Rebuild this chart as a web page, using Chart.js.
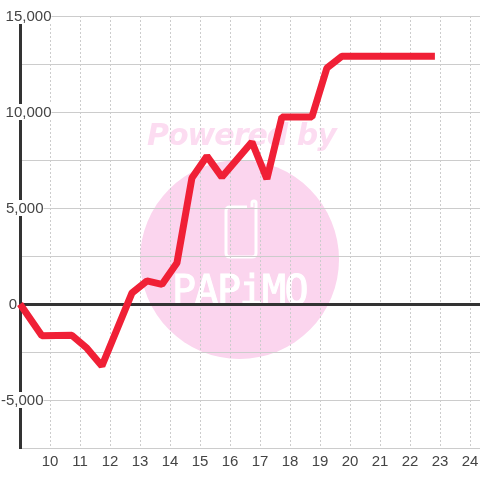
<!DOCTYPE html>
<html>
<head>
<meta charset="utf-8">
<style>
  html, body { margin: 0; padding: 0; background: #fff; }
  canvas { display: block; }
</style>
<script src="https://cdn.jsdelivr.net/npm/chart.js@4/dist/chart.umd.min.js"></script>
</head>
<body>
<canvas id="grafico" width="480" height="480"></canvas>
<script>
const horas = [9, 9.73, 10.73, 11.23, 11.73, 12.73, 13.23, 13.73, 14.23, 14.73, 15.23, 15.73, 16.73, 17.23, 17.73, 18.73, 19.23, 19.73, 22.83];
const valores = [0, -1650, -1630, -2300, -3230, 570, 1200, 1020, 2130, 6560, 7700, 6610, 8440, 6510, 9740, 9740, 12290, 12900, 12900];
const yTicks = [15000, 10000, 5000, 0, -5000];
const yTickLabels = ['15,000', '10,000', '5,000', '0', '-5,000'];
const yTickRight = [51.5, 51.5, 43.5, 17, 43.5];

const FONT = '15px "Liberation Sans"';
const TEXTO = '#444';

const marcaAgua = {
  id: 'marcaAgua',
  beforeDraw(chart) {
    const c = chart.ctx;
    c.save();
    c.fillStyle = '#fbd5ee';
    c.beginPath();
    c.arc(239.5, 259.5, 99.5, 0, Math.PI * 2);
    c.fill();

    c.fillStyle = '#fcdcf1';
    c.font = 'italic bold 30px "DejaVu Sans"';
    c.letterSpacing = '-1px';
    c.textAlign = 'left';
    c.textBaseline = 'alphabetic';
    c.fillText('Powered by', 147, 145);

    c.strokeStyle = '#fff';
    c.lineWidth = 3;
    c.beginPath();
    c.moveTo(247, 207);
    c.lineTo(230, 207);
    c.quadraticCurveTo(226, 207, 226, 211);
    c.lineTo(226, 253);
    c.quadraticCurveTo(226, 257, 230, 257);
    c.lineTo(252, 257);
    c.quadraticCurveTo(256, 257, 256, 253);
    c.lineTo(256, 203);
    c.arc(254, 203, 2, 0, Math.PI, true);
    c.lineTo(252, 207);
    c.stroke();

    c.fillStyle = '#fff';
    c.font = '40px "DejaVu Sans Mono"';
    c.letterSpacing = '-1.6px';
    c.lineWidth = 1;
    c.fillText('PAPiMO', 172, 304);
    c.strokeText('PAPiMO', 172, 304);
    c.restore();
  }
};

const etiquetasY = {
  id: 'etiquetasY',
  afterDraw(chart) {
    const c = chart.ctx;
    const y = chart.scales.y;
    c.save();
    c.font = FONT;
    c.textAlign = 'right';
    c.textBaseline = 'middle';
    yTicks.forEach((v, i) => {
      const py = y.getPixelForValue(v);
      const w = c.measureText(yTickLabels[i]).width;
      c.fillStyle = '#fff';
      c.fillRect(yTickRight[i] - w, py - 8, w, 16);
      c.fillStyle = TEXTO;
      c.fillText(yTickLabels[i], yTickRight[i], py + 1);
    });
    c.restore();
  }
};

new Chart(document.getElementById('grafico').getContext('2d'), {
  type: 'line',
  data: {
    datasets: [{
      data: horas.map((h, i) => ({ x: h, y: valores[i] })),
      borderColor: '#f02036',
      borderWidth: 7,
      pointRadius: 0,
      tension: 0,
      fill: false,
      clip: false,
      borderJoinStyle: 'bevel',
      borderCapStyle: 'butt'
    }]
  },
  options: {
    responsive: false,
    animation: false,
    layout: { padding: { left: 20, right: 0, top: 16, bottom: 4 } },
    plugins: { legend: { display: false }, tooltip: { enabled: false } },
    scales: {
      x: {
        type: 'linear',
        min: 9,
        max: 24.3333,
        afterFit: s => { s.paddingLeft = 0; s.paddingRight = 0; },
        grid: {
          color: ctx => ctx.tick && ctx.tick.value === 9 ? 'rgba(0,0,0,0)' : '#ccc',
          lineWidth: 1,
          drawTicks: false
        },
        border: { display: false, dash: [2, 2] },
        ticks: {
          stepSize: 1,
          includeBounds: false,
          autoSkip: false,
          maxRotation: 0,
          padding: 5,
          color: TEXTO,
          font: { family: '"Liberation Sans"', size: 15 },
          callback: v => (v === 9 ? '' : String(v))
        }
      },
      y: {
        min: -7500,
        max: 15000,
        border: { display: true, color: '#333', width: 3 },
        grid: {
          color: ctx => ctx.tick && ctx.tick.value === 0 ? '#333' : '#ccc',
          lineWidth: ctx => ctx.tick && ctx.tick.value === 0 ? 3 : 1,
          drawTicks: false
        },
        ticks: { stepSize: 2500, display: false }
      }
    }
  },
  plugins: [marcaAgua, etiquetasY]
});
</script>
</body>
</html>
